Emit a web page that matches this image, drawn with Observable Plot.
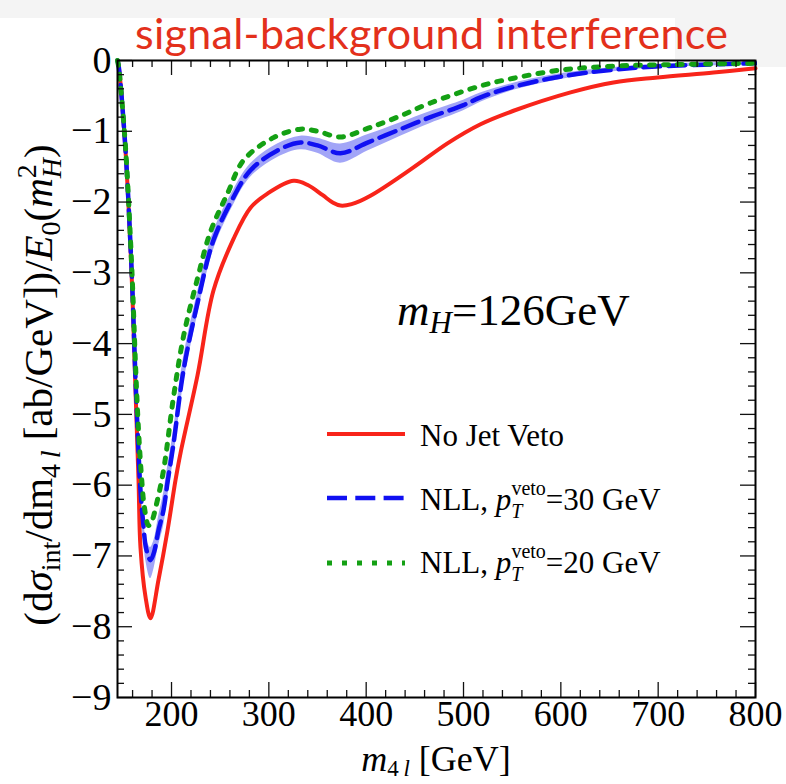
<!DOCTYPE html>
<html>
<head>
<meta charset="utf-8">
<script src="https://cdn.jsdelivr.net/npm/d3@7"></script>
<script src="https://cdn.jsdelivr.net/npm/@observablehq/plot@0.6"></script>
<style>
  html, body { margin: 0; padding: 0; background: #fff; overflow: hidden; }
  #wrap { position: relative; width: 786px; height: 784px; }
  #wrap > svg { position: absolute; left: 0; top: 0; }
  .shade { position: absolute; background: #f4f4f4; z-index: 1; }
  #overlay { z-index: 2; pointer-events: none; }
</style>
</head>
<body>
<div id="wrap">
  <div class="shade" style="left:0;top:0;width:786px;height:18px"></div>
  <div class="shade" style="left:675px;top:18px;width:111px;height:41px"></div>
  <div class="shade" style="left:757px;top:59px;width:29px;height:8px"></div>
</div>
<script>
// m4l [GeV] and interference term for the three predictions
const redX   = [144.5, 145.8, 152.7, 157.9, 159.9, 163, 166.1, 168.1, 173.3, 178.4, 186.6, 195.9, 204.1, 209.2, 226.7, 243.1, 263.7, 281.2, 298.6, 325.5, 340, 355, 366, 373.6, 385, 404.4, 448.6, 483.5, 517.5, 551.4, 610, 654.1, 699.3, 756.9, 800];
const redY   = [0, -0.09, -1.27, -2.68, -3.35, -4.66, -5.93, -6.88, -7.58, -7.88, -7.34, -6.64, -5.93, -5.55, -4.45, -3.25, -2.52, -2.08, -1.88, -1.7, -1.76, -1.9, -2.01, -2.05, -2.03, -1.91, -1.51, -1.17, -0.9, -0.71, -0.45, -0.31, -0.24, -0.17, -0.11];

const blueX  = [144.5, 145.8, 152.7, 157.9, 160, 163, 166, 168, 171, 174, 178.4, 182, 186.6, 191.8, 196, 202, 212.3, 226.7, 243.1, 263.7, 281.2, 308.9, 332.5, 350, 373.6, 401.4, 435.3, 466, 500, 517.5, 551.4, 602.7, 654.1, 705.5, 800];
const blueY  = [0, -0.09, -1.25, -2.62, -3.3, -4.5, -5.5, -6.05, -6.55, -6.9, -7.06, -6.95, -6.64, -6.35, -5.95, -5.42, -4.38, -3.43, -2.54, -1.93, -1.55, -1.27, -1.16, -1.2, -1.31, -1.16, -0.97, -0.8, -0.63, -0.52, -0.37, -0.22, -0.13, -0.08, -0.04];
// scale-variation band around the 30 GeV veto curve
const bandHi = [0, -0.07, -1.15, -2.5, -3.15, -4.3, -5.3, -5.85, -6.4, -6.75, -6.88, -6.78, -6.45, -6.12, -5.74, -5.24, -4.2, -3.28, -2.42, -1.83, -1.46, -1.18, -1.07, -1.1, -1.18, -1.05, -0.88, -0.72, -0.56, -0.46, -0.32, -0.18, -0.1, -0.05, -0.02];
const bandLo = [0, -0.11, -1.35, -2.75, -3.45, -4.7, -5.7, -6.25, -6.75, -7.1, -7.32, -7.18, -6.86, -6.58, -6.18, -5.64, -4.58, -3.6, -2.68, -2.04, -1.65, -1.37, -1.26, -1.31, -1.45, -1.28, -1.07, -0.89, -0.71, -0.59, -0.42, -0.26, -0.16, -0.1, -0.06];

const greenX = [144.5, 145.8, 152.7, 157.9, 160, 163, 166, 169, 172, 176.4, 180, 184, 191.8, 202, 212.3, 226.7, 240, 257.5, 274, 304.8, 332.5, 350, 373.6, 401.4, 432.2, 466, 517.5, 551.4, 602.7, 654.1, 705.5, 800];
const greenY = [0, -0.1, -1.22, -2.55, -3.2, -4.3, -5.2, -5.85, -6.3, -6.57, -6.5, -6.3, -5.79, -4.76, -3.9, -3.08, -2.42, -1.88, -1.41, -1.09, -0.97, -1.0, -1.08, -0.96, -0.8, -0.6, -0.36, -0.25, -0.13, -0.08, -0.06, -0.04];

// axes
const xDomain = [144.5, 800];
const yDomain = [-9, 0];
const xMajor = [200, 300, 400, 500, 600, 700, 800];
const xTickLabels = ["200", "300", "400", "500", "600", "700", "800"];
const yMajor = [0, -1, -2, -3, -4, -5, -6, -7, -8, -9];
const yTickLabels = ["0", "\u22121", "\u22122", "\u22123", "\u22124", "\u22125", "\u22126", "\u22127", "\u22128", "\u22129"];
const xMinor = d3.range(160, 800, 20).filter(v => v % 100 !== 0);
const yMinor = d3.range(-45, 0).map(k => k / 5).filter(v => Math.abs(v - Math.round(v)) > 1e-6);

const serif = "Liberation Serif, Times New Roman, serif";
const rows = (xs, ys) => xs.map((x, i) => ({x, y: ys[i]}));
const bandRows = blueX.map((x, i) => ({x, lo: bandLo[i], hi: bandHi[i]}));

const tick = {stroke: "#111", strokeWidth: 1.3};
const atBottom = () => yDomain[0], atTop = () => yDomain[1];
const atLeft = () => xDomain[0], atRight = () => xDomain[1];
const MAJ = 15, MIN = 7;

const plot = Plot.plot({
  width: 786,
  height: 784,
  marginLeft: 117,
  marginRight: 31,
  marginTop: 60,
  marginBottom: 87,
  style: {background: "transparent", overflow: "visible"},
  x: {domain: xDomain, axis: null},
  y: {domain: yDomain, axis: null},
  marks: [
    Plot.areaY(bandRows, {x: "x", y1: "lo", y2: "hi", fill: "#a2a5f7", curve: "catmull-rom"}),
    Plot.line(rows(redX, redY), {x: "x", y: "y", stroke: "#f8241a", strokeWidth: 4, curve: "catmull-rom"}),
    Plot.line(rows(blueX, blueY), {x: "x", y: "y", stroke: "#1010f2", strokeWidth: 4.5, strokeDasharray: "17,8", curve: "catmull-rom"}),
    Plot.line(rows(greenX, greenY), {x: "x", y: "y", stroke: "#14a014", strokeWidth: 5, strokeDasharray: "5,9", curve: "catmull-rom"}),

    // inward ticks on all four sides
    Plot.ruleX(xMajor, {x: d => d, y1: atBottom, y2: atBottom, insetBottom: MAJ, ...tick}),
    Plot.ruleX(xMinor, {x: d => d, y1: atBottom, y2: atBottom, insetBottom: MIN, ...tick}),
    Plot.ruleX(xMajor, {x: d => d, y1: atTop, y2: atTop, insetBottom: -MAJ, ...tick}),
    Plot.ruleX(xMinor, {x: d => d, y1: atTop, y2: atTop, insetBottom: -MIN, ...tick}),
    Plot.ruleY(yMajor, {y: d => d, x1: atLeft, x2: atLeft, insetRight: -MAJ, ...tick}),
    Plot.ruleY(yMinor, {y: d => d, x1: atLeft, x2: atLeft, insetRight: -MIN, ...tick}),
    Plot.ruleY(yMajor, {y: d => d, x1: atRight, x2: atRight, insetLeft: -MAJ, ...tick}),
    Plot.ruleY(yMinor, {y: d => d, x1: atRight, x2: atRight, insetLeft: -MIN, ...tick}),
    Plot.frame({stroke: "#000", strokeWidth: 2}),

    Plot.text(xMajor, {x: d => d, frameAnchor: "bottom", lineAnchor: "top", dy: 3,
      text: (d, i) => xTickLabels[i], fontSize: 36, fontFamily: serif, fill: "#000"}),
    Plot.text(yMajor, {y: d => d, frameAnchor: "left", textAnchor: "end", dx: -6,
      text: (d, i) => yTickLabels[i], fontSize: 38, fontFamily: serif, fill: "#000"})
  ]
});
document.getElementById("wrap").prepend(plot);

// title, axis titles, annotation and legend
const overlay = d3.select("#wrap").append("svg")
  .attr("id", "overlay").attr("width", 786).attr("height", 784)
  .attr("font-family", serif).attr("fill", "#000");

overlay.append("text")
  .attr("x", 135).attr("y", 49)
  .attr("font-family", "Lato, 'Open Sans', sans-serif").attr("font-size", 43)
  .attr("fill", "#e3301b").attr("textLength", 593).attr("lengthAdjust", "spacing")
  .text("signal-background interference");

// builds a text element from [string, attrs] pieces
function rich(sel, parts) {
  parts.forEach(([s, a]) => {
    const t = sel.append("tspan").text(s);
    if (a) Object.entries(a).forEach(([k, v]) => t.attr(k, v));
  });
  return sel;
}

// y-axis title
rich(overlay.append("text")
  .attr("transform", "translate(52,385) rotate(-90)")
  .attr("text-anchor", "middle").attr("font-size", 41), [
  ["(d"],
  ["\u03c3", {"font-style": "italic"}],
  ["int", {"font-size": 28, dy: 8}],
  ["/dm", {dy: -8}],
  ["4\u2009", {"font-size": 28, dy: 8}],
  ["l", {"font-size": 28, "font-style": "italic"}],
  ["\u00a0[ab/GeV])/", {dy: -8}],
  ["E", {"font-style": "italic"}],
  ["0", {"font-size": 28, dy: 8}],
  ["(", {dy: -8}],
  ["m", {"font-style": "italic"}],
  ["2", {"font-size": 28, dy: -16}],
  ["H", {"font-size": 28, "font-style": "italic", dx: -14, dy: 25}],
  [")", {dy: -9}]
]);

// x-axis title
rich(overlay.append("text")
  .attr("x", 436).attr("y", 771).attr("text-anchor", "middle").attr("font-size", 36), [
  ["m", {"font-style": "italic"}],
  ["4\u2009", {"font-size": 23, dy: 5}],
  ["l", {"font-size": 23, "font-style": "italic"}],
  ["\u00a0[GeV]", {dy: -5}]
]);

// Higgs mass annotation
rich(overlay.append("text").attr("x", 397).attr("y", 325).attr("font-size", 45), [
  ["m", {"font-style": "italic"}],
  ["H", {"font-size": 31, "font-style": "italic", dy: 8}],
  ["=126GeV", {dy: -8}]
]);

// legend
const legend = [
  {y: 434, base: 446, stroke: "#f8241a", width: 4, dash: null, label: [["No Jet Veto"]]},
  {y: 498, base: 510, stroke: "#1010f2", width: 4.5, dash: "20,8.3", veto: "30"},
  {y: 563, base: 573, stroke: "#14a014", width: 5, dash: "5,10", veto: "20"}
];
legend.forEach(r => {
  const l = overlay.append("line").attr("x1", 327).attr("x2", 405).attr("y1", r.y).attr("y2", r.y)
    .attr("stroke", r.stroke).attr("stroke-width", r.width);
  if (r.dash) l.attr("stroke-dasharray", r.dash);
  const t = overlay.append("text").attr("x", 420).attr("y", r.base).attr("font-size", 31);
  if (r.label) rich(t, r.label);
  else rich(t, [
    ["NLL, "],
    ["p", {"font-style": "italic"}],
    ["T", {"font-size": 20, "font-style": "italic", dy: 8}],
    ["veto", {"font-size": 20, dx: -11, dy: -23}],
    ["=" + r.veto + " GeV", {dy: 15}]
  ]);
});
</script>
</body>
</html>
